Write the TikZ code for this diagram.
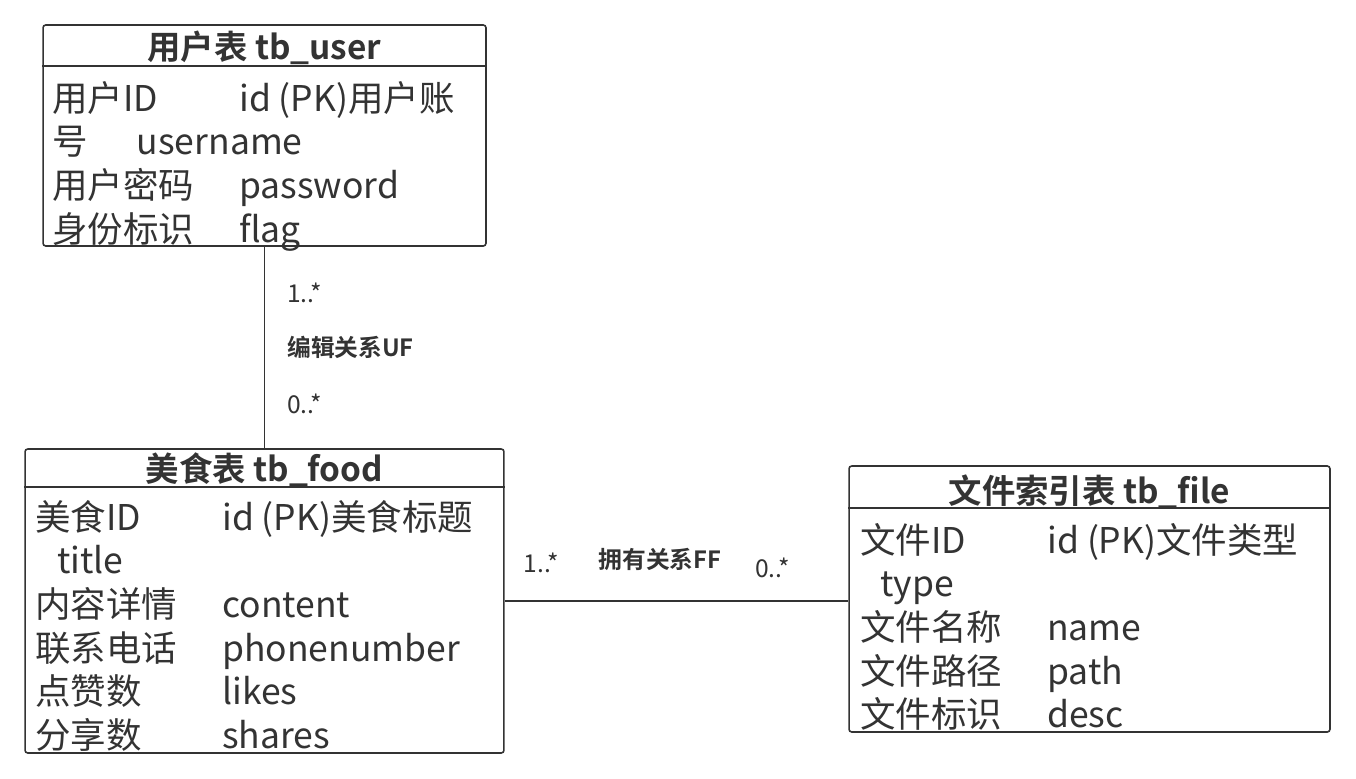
\documentclass[tikz,border=0pt]{standalone}
\usepackage{fontspec}
\setmainfont{Noto Sans CJK SC}[BoldFont={Noto Sans CJK SC Bold}]
\usepackage{tikz}
\usetikzlibrary{positioning}
\definecolor{ink}{HTML}{333333}
\newcommand{\fld}[2]{\makebox[3.74cm][l]{#1}#2}
\tikzset{
  tbl/.style={draw=ink, line width=0.9pt, rounded corners=1.5pt, inner sep=0pt},
  ttitle/.style={text=ink, font=\fontsize{19}{24}\selectfont\bfseries, inner sep=0pt},
  tbody/.style={text=ink, font=\fontsize{20.2}{24.8}\selectfont, align=left, anchor=north west, inner sep=0pt},
  mult/.style={text=ink, font=\fontsize{14}{16}\selectfont, inner sep=0pt},
  rel/.style={text=ink, font=\fontsize{13.5}{16}\selectfont\bfseries, inner sep=0pt}
}
\begin{document}
\begin{tikzpicture}[x=0.02cm,y=-0.02cm]
		\useasboundingbox (0,0) rectangle (1356,778);
		% user table
		\node[tbl, minimum width=8.86cm, minimum height=4.42cm] (user) at (264.5,135.5) {};
		\node[ttitle] (usertitle) at (264.5,48) {用户表 tb\_user};
		\draw[ink, line width=0.9pt] ([yshift=-0.84cm]user.north west) -- ([yshift=-0.84cm]user.north east);
		\node[tbody] (userbody) at (52,81) {\fld{用户ID}{id (PK)用户账}\\ 号\hspace{0.98cm}username\\ \fld{用户密码}{password}\\ \fld{身份标识}{flag}};
		% food table
		\node[tbl, minimum width=9.58cm, minimum height=6.08cm] (food) at (264.5,601) {};
		\node[ttitle] (foodtitle) at (264.5,470) {美食表 tb\_food};
		\draw[ink, line width=0.9pt] ([yshift=-0.78cm]food.north west) -- ([yshift=-0.78cm]food.north east);
		\node[tbody] (foodbody) at (35,500) {\fld{美食ID}{id (PK)美食标题}\\ \hspace{0.44cm}title\\ \fld{内容详情}{content}\\ \fld{联系电话}{phonenumber}\\ \fld{点赞数}{likes}\\ \fld{分享数}{shares}};
		% file table
		\node[tbl, minimum width=9.62cm, minimum height=5.32cm] (file) at (1089.5,599) {};
		\node[ttitle] (filetitle) at (1089.5,492) {文件索引表 tb\_file};
		\draw[ink, line width=0.9pt] ([yshift=-0.86cm]file.north west) -- ([yshift=-0.86cm]file.north east);
		\node[tbody] (filebody) at (860,523) {\fld{文件ID}{id (PK)文件类型}\\ \hspace{0.4cm}type\\ \fld{文件名称}{name}\\ \fld{文件路径}{path}\\ \fld{文件标识}{desc}};
		% relations
		\draw[ink, line width=0.9pt] (user) -- (food)
			node[mult, pos=0.227, anchor=west, xshift=0.44cm] (uf1) {1..*}
			node[rel, pos=0.5, anchor=west, xshift=0.44cm] (ufname) {编辑关系UF}
			node[mult, pos=0.78, anchor=west, xshift=0.44cm] (uf2) {0..*};
		\draw[ink, line width=0.9pt] (food.east) -- (food.east -| file.west)
			node[mult, pos=0.107, yshift=0.76cm] (ff1) {1..*}
			node[rel, pos=0.452, yshift=0.84cm] (ffname) {拥有关系FF}
			node[mult, pos=0.78, yshift=0.66cm] (ff2) {0..*};
\end{tikzpicture}
\end{document}
